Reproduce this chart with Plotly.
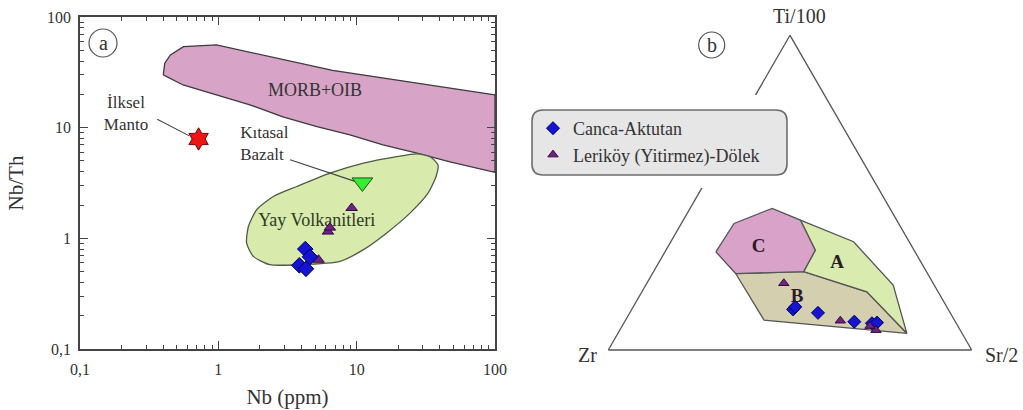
import plotly.graph_objects as go

# ---------------- Panel (a): Nb (ppm) vs Nb/Th, log-log ----------------
morb_nb = [0.40, 0.41, 0.45, 0.56, 0.97, 6.7, 100, 100, 47.3, 27.3, 15.5, 8.95, 5.16, 2.93, 1.69, 0.98, 0.556, 0.40]
morb_nbth = [30.0, 38.2, 45.4, 54.0, 55.9, 33.0, 19.8, 3.94, 4.9, 5.9, 7.0, 8.6, 10.2, 12.5, 16.1, 19.8, 24.3, 30.0]

yay_nb = [27.2, 33.9, 38.7, 37.5, 32.8, 24.3, 16.5, 11.2, 7.59, 3.89, 2.36, 1.79, 1.60, 1.65, 1.89, 2.50, 3.69, 6.41, 11.2, 19.5, 27.2]
yay_nbth = [5.8, 5.48, 4.61, 3.62, 2.56, 1.69, 1.12, 0.79, 0.62, 0.578, 0.578, 0.687, 0.91, 1.28, 1.81, 2.39, 2.94, 3.88, 4.78, 5.48, 5.8]

canca_nb = [4.25, 4.6, 3.85, 4.3]
canca_nbth = [0.80, 0.68, 0.57, 0.53]
leri_nb = [9.2, 6.2, 6.4, 5.3]
leri_nbth = [1.88, 1.15, 1.25, 0.64]

manto_nb = [0.72]
manto_nbth = [7.9]
basalt_nb = [11.0]
basalt_nbth = [3.2]

manto_line_nb = [0.362, 0.617]
manto_line_nbth = [11.9, 8.43]
basalt_line_nb = [3.30, 9.73]
basalt_line_nbth = [5.12, 3.27]

axis_tickvals = [0.1, 1, 10, 100]
axis_ticktext = ["0,1", "1", "10", "100"]
minor_digits = [2, 3, 4, 5, 6, 7, 8, 9]
decades = [0.1, 1, 10]

# ---------------- Panel (b): Ti/100 - Zr - Sr/2 ternary ----------------
regC_ti = [0.312, 0.402, 0.450, 0.413, 0.317, 0.249, 0.243, 0.312]
regC_zr = [0.548, 0.453, 0.324, 0.265, 0.272, 0.338, 0.528, 0.548]
regC_sr = [0.140, 0.145, 0.226, 0.322, 0.411, 0.413, 0.229, 0.140]

regA_ti = [0.413, 0.344, 0.206, 0.053, 0.185, 0.249, 0.317, 0.413]
regA_zr = [0.265, 0.153, 0.113, 0.152, 0.196, 0.338, 0.272, 0.265]
regA_sr = [0.322, 0.503, 0.681, 0.795, 0.619, 0.413, 0.411, 0.322]

regB_ti = [0.243, 0.249, 0.185, 0.053, 0.095, 0.243]
regB_zr = [0.528, 0.338, 0.196, 0.152, 0.524, 0.528]
regB_sr = [0.229, 0.413, 0.619, 0.795, 0.381, 0.229]

canca_ti = [0.129, 0.137, 0.118, 0.090, 0.085, 0.087]
canca_zr = [0.427, 0.417, 0.364, 0.278, 0.232, 0.217]
canca_sr = [0.444, 0.446, 0.518, 0.632, 0.683, 0.696]

leri_ti = [0.212, 0.093, 0.063, 0.076]
leri_zr = [0.411, 0.315, 0.232, 0.242]
leri_sr = [0.377, 0.592, 0.705, 0.682]

region_labels = ["A", "B", "C"]
region_lab_ti = [0.275, 0.169, 0.328]
region_lab_zr = [0.233, 0.396, 0.422]
region_lab_sr = [0.492, 0.435, 0.250]

FONT = "'Liberation Serif', 'DejaVu Serif', serif"
TXT = "#333333"
W, H = 1023, 410

BLUE = "#1414d2"
BLUE_LINE = "#00005a"
PURPLE = "#6c2583"
PURPLE_LINE = "#35093f"

fig = go.Figure()

# ----- panel a fields -----
fig.add_trace(go.Scatter(x=morb_nb, y=morb_nbth, mode="lines", fill="toself",
                         fillcolor="#d7a3c7", line=dict(color="#3c3c3c", width=1.3),
                         hoverinfo="skip", showlegend=False))
fig.add_trace(go.Scatter(x=yay_nb, y=yay_nbth, mode="lines", fill="toself",
                         fillcolor="#d8eaac", line=dict(color="#4d5a45", width=1.3, shape="spline", smoothing=0.6),
                         hoverinfo="skip", showlegend=False))
# leader lines
fig.add_trace(go.Scatter(x=manto_line_nb, y=manto_line_nbth, mode="lines",
                         line=dict(color="#444444", width=1.1), hoverinfo="skip", showlegend=False))
fig.add_trace(go.Scatter(x=basalt_line_nb, y=basalt_line_nbth, mode="lines",
                         line=dict(color="#444444", width=1.1), hoverinfo="skip", showlegend=False))
# text labels
fig.add_trace(go.Scatter(x=[5.0], y=[21.3], mode="text", text=["MORB+OIB"],
                         textfont=dict(family=FONT, size=18, color=TXT), showlegend=False, hoverinfo="skip"))
fig.add_trace(go.Scatter(x=[5.14], y=[1.41], mode="text", text=["Yay Volkanitleri"],
                         textfont=dict(family=FONT, size=18, color="#2e3a22"), showlegend=False, hoverinfo="skip"))
fig.add_trace(go.Scatter(x=[0.215], y=[13.1], mode="text", text=["İlksel<br>Manto"],
                         textfont=dict(family=FONT, size=17, color=TXT), showlegend=False, hoverinfo="skip"))
fig.add_trace(go.Scatter(x=[1.44], y=[7.0], mode="text", text=["Kıtasal<br>Bazalt"], textposition="middle right",
                         textfont=dict(family=FONT, size=17, color=TXT), showlegend=False, hoverinfo="skip"))
# markers
fig.add_trace(go.Scatter(x=manto_nb, y=manto_nbth, mode="markers",
                         marker=dict(symbol="hexagram", size=17, color="#ee1515", line=dict(color="#7a0000", width=1)),
                         showlegend=False))
fig.add_trace(go.Scatter(x=basalt_nb, y=basalt_nbth, mode="markers",
                         marker=dict(symbol="triangle-down", size=18, color="#33ee33", line=dict(color="#1f4f1f", width=1)),
                         showlegend=False))
fig.add_trace(go.Scatter(x=leri_nb, y=leri_nbth, mode="markers",
                         marker=dict(symbol="triangle-up", size=10, color=PURPLE, line=dict(color=PURPLE_LINE, width=1)),
                         showlegend=False))
fig.add_trace(go.Scatter(x=canca_nb, y=canca_nbth, mode="markers",
                         marker=dict(symbol="diamond", size=12, color=BLUE, line=dict(color=BLUE_LINE, width=1)),
                         showlegend=False))

# ----- panel b -----
fig.add_trace(go.Scatterternary(a=regB_ti, b=regB_zr, c=regB_sr, mode="lines", fill="toself",
                                fillcolor="#d4d0af", line=dict(color="#555555", width=1.3),
                                hoverinfo="skip", showlegend=False))
fig.add_trace(go.Scatterternary(a=regA_ti, b=regA_zr, c=regA_sr, mode="lines", fill="toself",
                                fillcolor="#d9ebae", line=dict(color="#555555", width=1.3),
                                hoverinfo="skip", showlegend=False))
fig.add_trace(go.Scatterternary(a=regC_ti, b=regC_zr, c=regC_sr, mode="lines", fill="toself",
                                fillcolor="#d8a2c9", line=dict(color="#555555", width=1.3),
                                hoverinfo="skip", showlegend=False))
fig.add_trace(go.Scatterternary(a=region_lab_ti, b=region_lab_zr, c=region_lab_sr, mode="text",
                                text=["<b>%s</b>" % s for s in region_labels],
                                textfont=dict(family=FONT, size=19, color="#2a1a2a"),
                                hoverinfo="skip", showlegend=False))
fig.add_trace(go.Scatterternary(a=canca_ti, b=canca_zr, c=canca_sr, mode="markers", name="Canca-Aktutan",
                                marker=dict(symbol="diamond", size=10, color=BLUE, line=dict(color=BLUE_LINE, width=1))))
fig.add_trace(go.Scatterternary(a=leri_ti, b=leri_zr, c=leri_sr, mode="markers", name="Leriköy (Yitirmez)-Dölek",
                                marker=dict(symbol="triangle-up", size=9, color=PURPLE, line=dict(color=PURPLE_LINE, width=1))))

minor_vals = [d * m for d in decades for m in minor_digits]
axis_common = dict(
    type="log", range=[-1, 2], tickmode="array", tickvals=axis_tickvals, ticktext=axis_ticktext,
    ticks="inside", ticklen=8, tickwidth=1.2, tickcolor="#444444", mirror="allticks",
    showline=True, linecolor="#444444", linewidth=1.6, showgrid=False, zeroline=False,
    automargin=False,
    minor=dict(tickmode="array", tickvals=minor_vals, ticks="inside", ticklen=4, tickcolor="#444444", showgrid=False),
    tickfont=dict(family=FONT, size=16, color=TXT),
)

tern_axis = dict(showticklabels=False, ticks="", showgrid=False, linecolor="#555555", linewidth=1.3,
                 title=dict(text=""))

def px2paper_x(px):
    return px / W

def px2paper_y(py):
    return (H - py) / H

fig.update_layout(
    width=W, height=H, margin=dict(l=0, r=0, t=0, b=0, autoexpand=False),
    paper_bgcolor="white", plot_bgcolor="white",
    font=dict(family=FONT, color=TXT),
    xaxis=dict(domain=[80 / W, 495 / W], anchor="y", ticklabelstandoff=5,
               title=dict(text="Nb (ppm)", font=dict(family=FONT, size=21, color=TXT), standoff=12),
               **axis_common),
    yaxis=dict(domain=[px2paper_y(349), px2paper_y(17)], anchor="x", ticklabelstandoff=4,
               title=dict(text="Nb/Th", font=dict(family=FONT, size=21, color=TXT), standoff=18),
               **axis_common),
    ternary=dict(domain=dict(x=[608.3 / W, 971.7 / W], y=[px2paper_y(350), px2paper_y(35.3)]),
                 bgcolor="white", sum=1, aaxis=tern_axis, baxis=tern_axis, caxis=tern_axis),
    legend=dict(x=px2paper_x(533), y=px2paper_y(110), xanchor="left", yanchor="top",
                bgcolor="rgba(0,0,0,0)", font=dict(family=FONT, size=18, color=TXT),
                tracegroupgap=0),
    showlegend=True,
)

# white halo interrupting the triangle edge behind the legend box
fig.add_shape(type="rect", xref="paper", yref="paper", layer="above",
              x0=px2paper_x(693), x1=px2paper_x(765), y0=px2paper_y(188), y1=px2paper_y(95),
              fillcolor="white", line=dict(width=0))
# rounded legend box
x0, x1 = px2paper_x(532), px2paper_x(787)
y0, y1 = px2paper_y(175), px2paper_y(110)
rx, ry = 11 / W, 11 / H
path = (f"M {x0+rx},{y1} L {x1-rx},{y1} Q {x1},{y1} {x1},{y1-ry} L {x1},{y0+ry} Q {x1},{y0} {x1-rx},{y0} "
        f"L {x0+rx},{y0} Q {x0},{y0} {x0},{y0+ry} L {x0},{y1-ry} Q {x0},{y1} {x0+rx},{y1} Z")
fig.add_shape(type="path", path=path, xref="paper", yref="paper", layer="above",
              fillcolor="#e6e6e6", line=dict(color="#6e6e6e", width=1.6))

# circled panel letters
for cx, cy, r, letter in [(103, 43, 14, "a"), (711.7, 45, 13, "b")]:
    fig.add_shape(type="circle", xref="paper", yref="paper", layer="above",
                  x0=px2paper_x(cx - r), x1=px2paper_x(cx + r), y0=px2paper_y(cy + r), y1=px2paper_y(cy - r),
                  line=dict(color="#555555", width=1.2))
    fig.add_annotation(x=px2paper_x(cx), y=px2paper_y(cy), xref="paper", yref="paper", text=letter,
                       xanchor="center", yanchor="middle",
                       showarrow=False, font=dict(family=FONT, size=20, color=TXT))

# ternary apex labels
for tx, ty, label in [(799, 16, "Ti/100"), (587, 355, "Zr"), (1001, 355, "Sr/2")]:
    fig.add_annotation(x=px2paper_x(tx), y=px2paper_y(ty), xref="paper", yref="paper", text=label,
                       xanchor="center", yanchor="middle",
                       showarrow=False, font=dict(family=FONT, size=20, color=TXT))

fig.write_html("out.html", config={"displayModeBar": False},
               post_script="document.body.style.margin='0';document.body.style.padding='0';")
